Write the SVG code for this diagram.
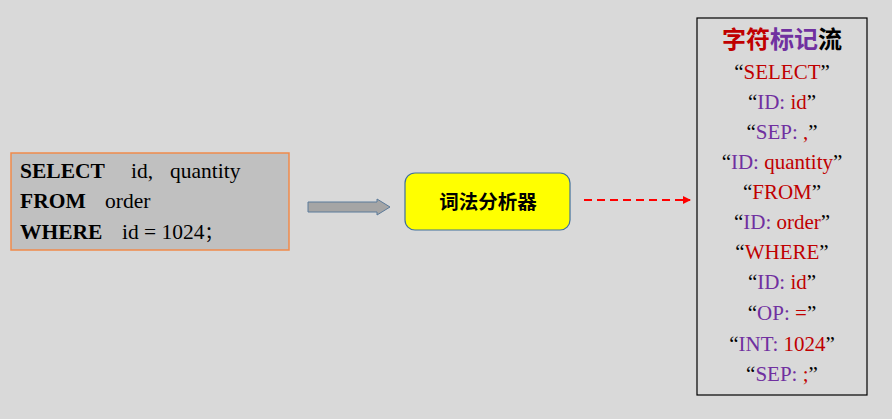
<svg xmlns="http://www.w3.org/2000/svg" width="892" height="419" viewBox="0 0 892 419">
  <style>
    .sql { font-family: "Liberation Serif", "Times New Roman", "Noto Sans CJK SC", serif; font-size: 21.5px; fill: #000; }
    .kw { font-weight: bold; }
    .tok { font-family: "Liberation Serif", "Times New Roman", serif; font-size: 21px; text-anchor: middle; }
    .r { fill: #c00000; }
    .p { fill: #7030a0; }
    .k { fill: #000; }
    .cjk { font-family: "Noto Sans CJK SC", "Liberation Sans", sans-serif; font-weight: bold; }
  </style>
  <defs>
    <marker id="redHead" markerWidth="8" markerHeight="8" refX="7" refY="4" orient="auto" markerUnits="userSpaceOnUse">
      <path d="M0,0 L8,4 L0,8 Z" fill="#ff0000"/>
    </marker>
  </defs>
  <rect width="892" height="419" fill="#d9d9d9"/>

  <g id="sql-source">
    <rect x="11" y="153" width="278" height="97" fill="#c0c0c0" stroke="#f08a4b" stroke-width="1.5"/>
    <text class="sql kw" x="20" y="178">SELECT</text>
    <text class="sql" x="131" y="178">id,</text>
    <text class="sql" x="170" y="178">quantity</text>
    <text class="sql kw" x="20" y="208">FROM</text>
    <text class="sql" x="105" y="208">order</text>
    <text class="sql kw" x="20" y="239">WHERE</text>
    <text class="sql" x="122" y="239">id = 1024<tspan font-family="Noto Sans CJK SC, sans-serif" font-size="18">；</tspan></text>
  </g>

  <g id="lexer">
    <rect x="405" y="173" width="165" height="57" rx="10" fill="#ffff00" stroke="#41719c" stroke-width="1.2"/>
    <text class="cjk" x="488" y="209" font-size="19.5" text-anchor="middle">词法分析器</text>
  </g>

  <g id="token-stream">
    <rect x="697" y="18" width="170" height="377" fill="#d9d9d9" stroke="#000" stroke-width="1.2"/>
    <text class="cjk" x="782" y="48" font-size="24" text-anchor="middle"><tspan class="r">字符</tspan><tspan class="p">标记</tspan><tspan class="k">流</tspan></text>
    <text class="tok" x="782" y="79"><tspan class="k">“</tspan><tspan class="r">SELECT</tspan><tspan class="k">”</tspan></text>
    <text class="tok" x="782" y="109"><tspan class="k">“</tspan><tspan class="p">ID: </tspan><tspan class="r">id</tspan><tspan class="k">”</tspan></text>
    <text class="tok" x="782" y="139"><tspan class="k">“</tspan><tspan class="p">SEP: </tspan><tspan class="r">,</tspan><tspan class="k">”</tspan></text>
    <text class="tok" x="782" y="169"><tspan class="k">“</tspan><tspan class="p">ID: </tspan><tspan class="r">quantity</tspan><tspan class="k">”</tspan></text>
    <text class="tok" x="782" y="199"><tspan class="k">“</tspan><tspan class="r">FROM</tspan><tspan class="k">”</tspan></text>
    <text class="tok" x="782" y="229"><tspan class="k">“</tspan><tspan class="p">ID: </tspan><tspan class="r">order</tspan><tspan class="k">”</tspan></text>
    <text class="tok" x="782" y="259"><tspan class="k">“</tspan><tspan class="r">WHERE</tspan><tspan class="k">”</tspan></text>
    <text class="tok" x="782" y="289"><tspan class="k">“</tspan><tspan class="p">ID: </tspan><tspan class="r">id</tspan><tspan class="k">”</tspan></text>
    <text class="tok" x="782" y="320"><tspan class="k">“</tspan><tspan class="p">OP: </tspan><tspan class="r">=</tspan><tspan class="k">”</tspan></text>
    <text class="tok" x="782" y="351"><tspan class="k">“</tspan><tspan class="p">INT: </tspan><tspan class="r">1024</tspan><tspan class="k">”</tspan></text>
    <text class="tok" x="782" y="381"><tspan class="k">“</tspan><tspan class="p">SEP: </tspan><tspan class="r">;</tspan><tspan class="k">”</tspan></text>
  </g>

  <g id="connectors">
    <path d="M308,202 L377,202 L377,199 L390,207 L377,215 L377,212 L308,212 Z" fill="#a5a5a5" stroke="#5b7a9a" stroke-width="1"/>
    <line x1="584" y1="200" x2="690" y2="200" stroke="#ff0000" stroke-width="2" stroke-dasharray="8,5" marker-end="url(#redHead)"/>
  </g>
</svg>
